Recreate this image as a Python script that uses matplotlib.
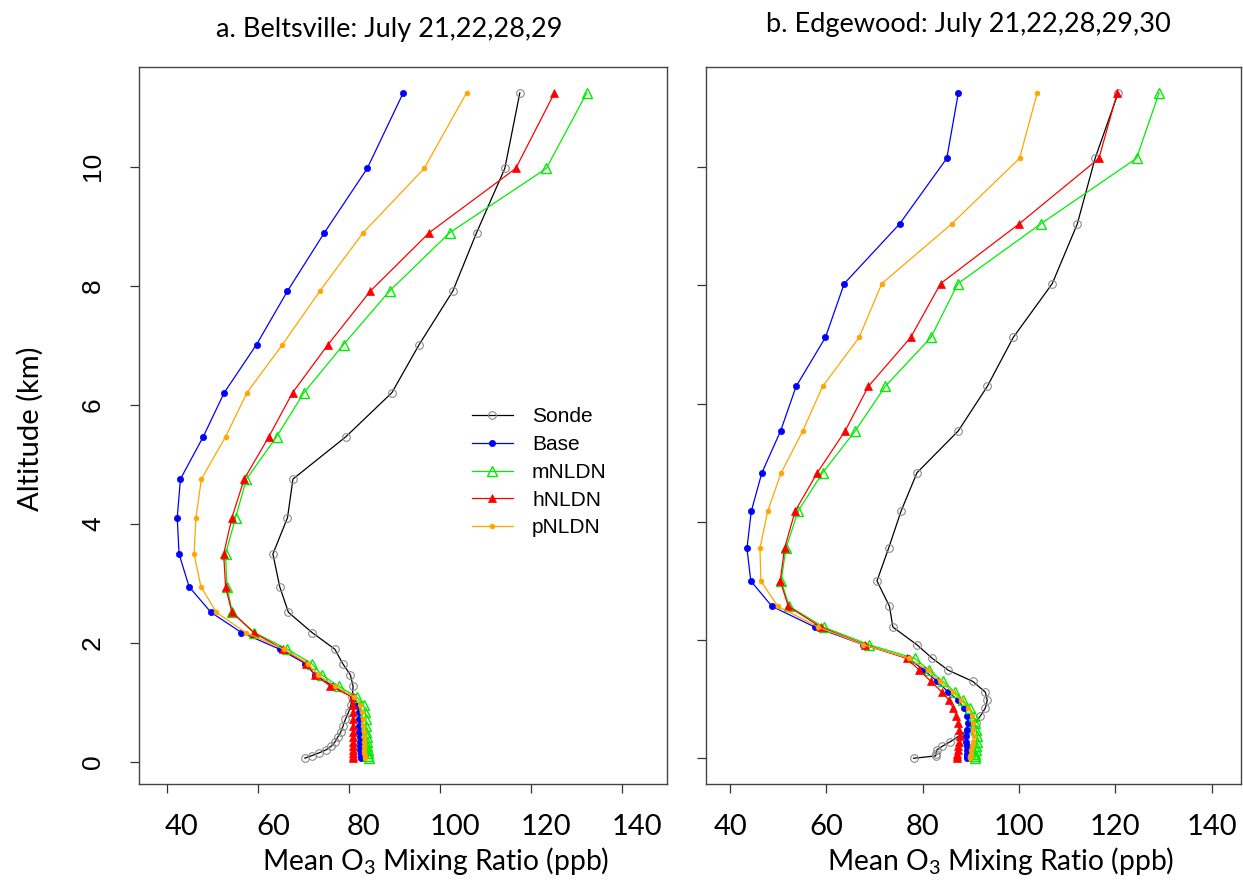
import numpy as np
import matplotlib.pyplot as plt
from matplotlib.transforms import ScaledTranslation

plt.rcParams['mathtext.default'] = 'regular'

# series drawn in each panel (legend order)
series = ["Sonde", "Base", "mNLDN", "hNLDN", "pNLDN"]

# a. Beltsville: altitude (km) and mean O3 (ppb)
alt_bv = [0.06, 0.10, 0.15, 0.20, 0.26, 0.33, 0.41, 0.50, 0.60, 0.71, 0.83, 0.95, 1.08, 1.27, 1.46,
          1.65, 1.89, 2.17, 2.51, 2.94, 3.49, 4.10, 4.75, 5.46, 6.20, 7.01, 7.91, 8.89, 9.97, 11.24]
sonde_bv = [70.3, 71.8, 73.5, 75.0, 76.1, 76.9, 77.5, 78.2, 78.7, 79.2, 79.9, 80.4, 80.7, 80.9, 80.3,
            78.6, 76.9, 71.9, 66.7, 64.8, 63.3, 66.5, 67.7, 79.3, 89.4, 95.4, 102.8, 108.0, 114.2, 117.5]
base_bv = [82.7, 82.6, 82.6, 82.5, 82.5, 82.4, 82.4, 82.3, 82.3, 82.2, 82.2, 81.8, 80.9, 76.5, 72.5,
           70.4, 64.8, 56.4, 49.7, 44.9, 42.7, 42.3, 43.0, 48.0, 52.6, 59.7, 66.5, 74.6, 84.0, 91.9]
mnldn_bv = [84.3, 84.2, 84.2, 84.1, 84.0, 84.0, 83.9, 83.8, 83.8, 83.7, 83.6, 83.2, 81.8, 77.7, 74.0,
            71.8, 66.5, 59.2, 54.4, 53.2, 52.9, 55.1, 57.5, 64.1, 70.1, 78.8, 88.9, 102.1, 123.3, 132.2]
hnldn_bv = [80.8, 80.8, 80.8, 80.8, 80.8, 80.8, 80.8, 80.8, 80.8, 80.8, 80.8, 80.8, 80.9, 75.9, 72.5,
            70.6, 65.5, 59.1, 54.3, 52.9, 52.5, 54.3, 57.0, 62.4, 67.6, 75.4, 84.7, 97.6, 116.6, 125.1]
pnldn_bv = [83.5, 83.5, 83.4, 83.4, 83.3, 83.3, 83.2, 83.2, 83.1, 83.0, 82.9, 82.5, 81.2, 76.9, 73.2,
            71.0, 65.7, 57.3, 50.9, 47.5, 46.0, 46.4, 47.6, 52.9, 57.6, 65.4, 73.6, 83.1, 96.5, 105.8]

# b. Edgewood
alt_ew = [0.00, 0.04, 0.08, 0.14, 0.20, 0.28, 0.37, 0.48, 0.60, 0.72, 0.85, 0.98, 1.12, 1.30, 1.49,
          1.69, 1.92, 2.22, 2.57, 3.00, 3.55, 4.18, 4.83, 5.54, 6.29, 7.12, 8.03, 9.04, 10.15, 11.26]
sonde_ew = [78.1, 82.7, 82.8, 82.9, 84.0, 85.7, 87.4, 89.5, 91.0, 92.0, 93.0, 93.4, 93.0, 90.4, 85.3,
            82.0, 78.8, 73.8, 73.1, 70.5, 72.9, 75.5, 78.8, 87.4, 93.4, 98.8, 106.9, 112.1, 115.8, 120.6]
base_ew = [89.1, 89.1, 89.1, 89.1, 89.1, 89.0, 89.0, 89.1, 89.4, 89.3, 88.5, 87.4, 85.3, 83.0, 80.3,
           77.0, 67.7, 57.6, 48.7, 44.3, 43.5, 44.4, 46.6, 50.5, 53.7, 59.8, 63.7, 75.2, 85.0, 87.4]
mnldn_ew = [90.9, 90.9, 90.9, 91.0, 91.1, 91.2, 91.3, 91.1, 90.9, 90.6, 89.8, 88.4, 86.7, 84.2, 81.4,
            78.3, 68.9, 59.4, 52.3, 50.6, 51.6, 54.1, 59.2, 66.0, 72.2, 81.7, 87.3, 104.5, 124.4, 129.1]
hnldn_ew = [87.1, 87.1, 87.2, 87.3, 87.4, 87.6, 87.7, 87.6, 87.4, 87.0, 86.3, 85.5, 84.0, 81.7, 79.3,
            76.7, 68.0, 58.8, 52.1, 50.4, 51.3, 53.5, 58.1, 63.9, 68.7, 77.5, 83.7, 100.0, 116.6, 120.4]
pnldn_ew = [89.8, 89.9, 90.0, 90.1, 90.2, 90.4, 90.7, 90.5, 90.4, 90.3, 89.5, 88.0, 86.2, 83.6, 81.0,
            77.2, 67.7, 58.3, 49.9, 46.4, 46.2, 47.8, 50.6, 55.1, 59.2, 66.8, 71.5, 86.0, 100.1, 103.8]

styles = {
    "Sonde": dict(color="black", marker="o", mfc="none", mec="#8a8a8a", ms=5.5, mew=0.8),
    "Base": dict(color="#0000ff", marker="o", mfc="#0000ff", mec="#0000ff", ms=4.5, mew=0.5),
    "mNLDN": dict(color="#00ee00", marker="^", mfc="none", mec="#00ee00", ms=6.5, mew=1.0),
    "hNLDN": dict(color="#ff0000", marker="^", mfc="#ff0000", mec="#ff0000", ms=6.0, mew=0.5),
    "pNLDN": dict(color="#ffa500", marker="o", mfc="#ffa500", mec="#ffa500", ms=3.5, mew=0.5),
}

calibri_like = "Lato"
r_font = "Liberation Sans"

fig = plt.figure(figsize=(12.43, 8.8), dpi=100)
ax_a = fig.add_axes([0.1118, 0.1091, 0.4248, 0.8151])
ax_b = fig.add_axes([0.568, 0.1091, 0.4304, 0.8151])

panels = [
    (ax_a, alt_bv, [sonde_bv, base_bv, mnldn_bv, hnldn_bv, pnldn_bv], (33.9, 149.8), (-0.375, 11.68)),
    (ax_b, alt_ew, [sonde_ew, base_ew, mnldn_ew, hnldn_ew, pnldn_ew], (35.0, 146.1), (-0.435, 11.70)),
]

for ax, alt, vals, xl, yl in panels:
    for name, v in zip(series, vals):
        ax.plot(v, alt, lw=0.9, label=name, **styles[name])
    ax.set_xlim(*xl)
    ax.set_ylim(*yl)
    ax.set_xticks([40, 60, 80, 100, 120, 140])
    ax.set_yticks([0, 2, 4, 6, 8, 10])
    ax.tick_params(axis="both", direction="out", length=6.5, width=0.9, color="#333333")
    ax.tick_params(axis="x", pad=15, labelsize=21)
    ax.tick_params(axis="y", pad=18)
    for lab in ax.get_xticklabels():
        lab.set_fontfamily(calibri_like)
    for s in ax.spines.values():
        s.set_color("#444444")
        s.set_linewidth(1.0)

for lab in ax_a.get_yticklabels():
    lab.set_fontfamily(r_font)
    lab.set_fontsize(19)
    lab.set_rotation(90)
    lab.set_va("center")
ax_b.set_yticklabels([])

# tick labels of the left panel sit a little right of their ticks
shift = ScaledTranslation(15 / 100, 0, fig.dpi_scale_trans)
for lab in ax_a.get_xticklabels():
    lab.set_transform(lab.get_transform() + shift)

ax_a.legend(loc="upper left", bbox_to_anchor=(0.630, 0.525), frameon=False,
            prop={"family": r_font, "size": 15}, handlelength=2.0, handletextpad=0.9,
            labelspacing=0.42, borderpad=0, borderaxespad=0)

W, H = 1243, 880
fig.text(389.5 / W, 1 - 36.7 / H, "a. Beltsville: July 21,22,28,29", ha="center", va="baseline",
         fontsize=19.5, family=calibri_like)
fig.text(968 / W, 1 - 32.3 / H, "b. Edgewood: July 21,22,28,29,30", ha="center", va="baseline",
         fontsize=19.5, family=calibri_like)
fig.text(435.5 / W, 1 - 870 / H, "Mean O$_3$ Mixing Ratio (ppb)", ha="center", va="baseline",
         fontsize=20.3, family=calibri_like)
fig.text(1001 / W, 1 - 870 / H, "Mean O$_3$ Mixing Ratio (ppb)", ha="center", va="baseline",
         fontsize=20.3, family=calibri_like)
fig.text(30 / W, 1 - 428.5 / H, "Altitude (km)", ha="center", va="center", rotation=90,
         fontsize=21, family=calibri_like)

fig.savefig("out.png", dpi=100, facecolor="white")
